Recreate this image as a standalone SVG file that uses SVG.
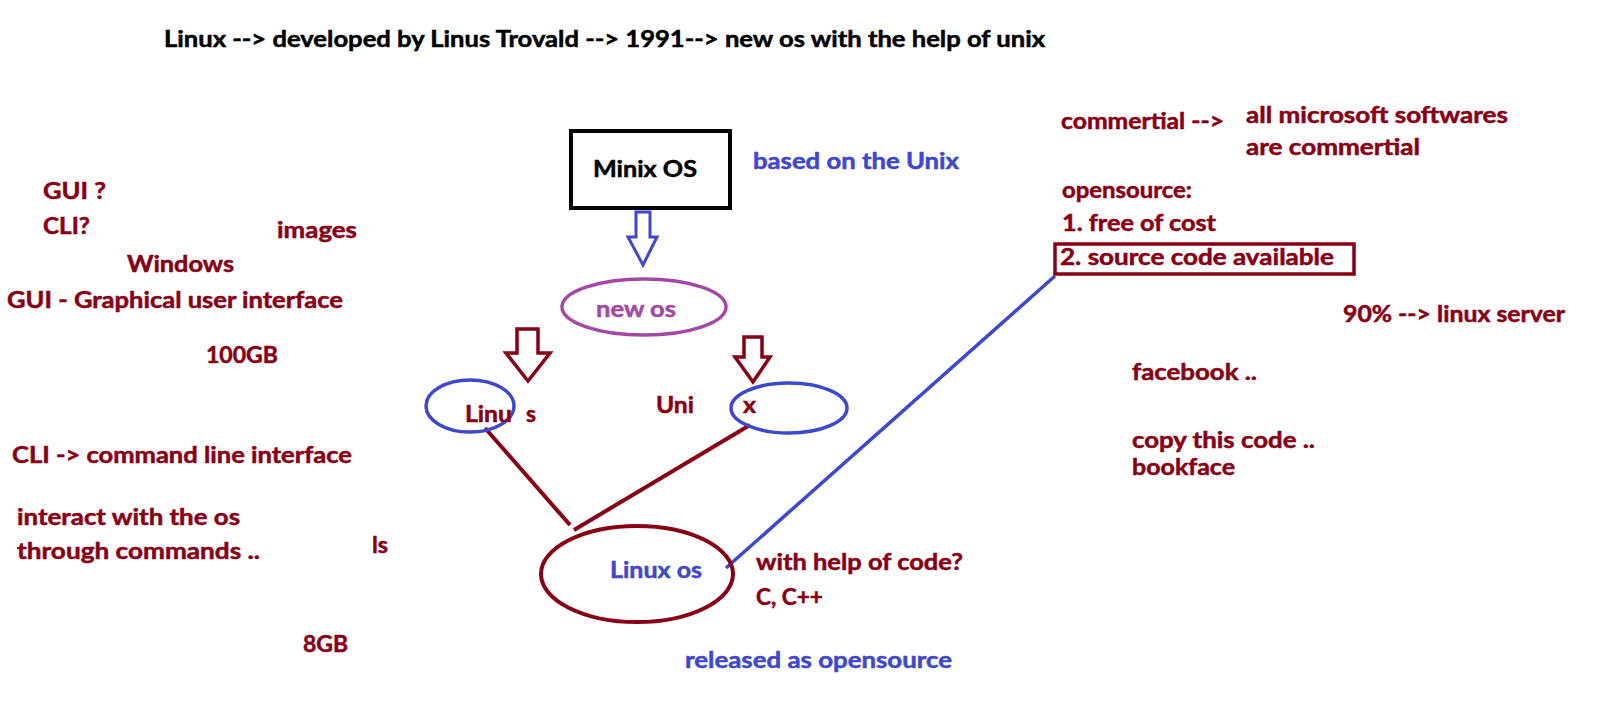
<svg xmlns="http://www.w3.org/2000/svg" width="1600" height="716" viewBox="0 0 1600 716">
<style>
text{font-family:Lato,"Open Sans","Liberation Sans",sans-serif;font-weight:bold;font-size:22px;stroke-width:0.5px}
.r{fill:#880015;stroke:#880015}
.b{fill:#3F48CC;stroke:#3F48CC}
.k{fill:#000;stroke:#000}
.p{fill:#A349A4;stroke:#A349A4}
.sr{fill:none;stroke:#880015;stroke-width:4}
.sb{fill:none;stroke:#3F48CC;stroke-width:3.5}
.ar{fill:#fff;stroke:#880015;stroke-width:3.5;stroke-linejoin:miter}
.ab{fill:#fff;stroke:#3F48CC;stroke-width:3;stroke-linejoin:miter}
</style>
<rect width="1600" height="716" fill="#fff"/>
<text id="title" class="k" x="164" y="47" font-size="22" textLength="881" lengthAdjust="spacingAndGlyphs">Linux --&gt; developed by Linus Trovald --&gt; 1991--&gt; new os with the help of unix</text>

<g id="connectors">
<line class="sr" x1="485" y1="428" x2="570" y2="525"/>
<line class="sr" x1="750" y1="425" x2="574" y2="530"/>
<line class="sb" x1="726" y1="568" x2="1055" y2="276"/>
<path class="ab" d="M636,212 L650,212 L650,237 L657,237 L643,265 L628,237 L636,237 Z"/>
<path class="ar" d="M517,329 L538,329 L538,353 L550,353 L528,381 L506,353 L517,353 Z"/>
<path class="ar" d="M744,337 L762,337 L762,357 L770,357 L753,382 L735,357 L744,357 Z"/>
</g>

<g id="minix">
<rect x="571" y="131" width="159" height="77" fill="#fff" stroke="#000" stroke-width="4"/>
<text class="k" x="593" y="177" font-size="24" textLength="104" lengthAdjust="spacingAndGlyphs">Minix OS</text>
</g>
<g id="based"><text class="b" x="753" y="169" font-size="23" textLength="206" lengthAdjust="spacingAndGlyphs">based on the Unix</text></g>

<g id="newos">
<ellipse cx="644" cy="307" rx="82" ry="28" fill="none" stroke="#A349A4" stroke-width="3.5"/>
<text class="p" x="596" y="317" font-size="26" textLength="80" lengthAdjust="spacingAndGlyphs">new os</text>
</g>

<g id="linus">
<ellipse cx="470" cy="406" rx="44" ry="26" fill="none" stroke="#3F48CC" stroke-width="3.5"/>
<text class="r" x="465" y="422" font-size="23" textLength="47" lengthAdjust="spacingAndGlyphs">Linu</text>
<text class="r" x="526" y="422" font-size="23" textLength="10" lengthAdjust="spacingAndGlyphs">s</text>
</g>

<g id="unix">
<text class="r" x="656" y="413" font-size="23" textLength="38" lengthAdjust="spacingAndGlyphs">Uni</text>
<ellipse cx="789" cy="408" rx="58" ry="25" fill="none" stroke="#3F48CC" stroke-width="3.5"/>
<text class="r" x="743" y="413" font-size="23" textLength="13" lengthAdjust="spacingAndGlyphs">x</text>
</g>

<g id="linuxos">
<ellipse cx="637" cy="574" rx="96" ry="48" fill="none" stroke="#880015" stroke-width="4"/>
<text class="b" x="610" y="578" font-size="24" textLength="92" lengthAdjust="spacingAndGlyphs">Linux os</text>
</g>

<g id="code">
<text class="r" x="756" y="570" font-size="25" textLength="207" lengthAdjust="spacingAndGlyphs">with help of code?</text>
<text class="r" x="756" y="605" textLength="67" lengthAdjust="spacingAndGlyphs">C, C++</text>
</g>
<g id="released"><text class="b" x="685" y="668" textLength="267" lengthAdjust="spacingAndGlyphs">released as opensource</text></g>

<g id="left-notes">
<text class="r" x="43" y="199" textLength="63" lengthAdjust="spacingAndGlyphs">GUI ?</text>
<text class="r" x="43" y="234" textLength="47" lengthAdjust="spacingAndGlyphs">CLI?</text>
<text class="r" x="277" y="238" textLength="80" lengthAdjust="spacingAndGlyphs">images</text>
<text class="r" x="127" y="272" textLength="107" lengthAdjust="spacingAndGlyphs">Windows</text>
<text class="r" x="7" y="308" textLength="336" lengthAdjust="spacingAndGlyphs">GUI - Graphical user interface</text>
<text class="r" x="206" y="363" textLength="72" lengthAdjust="spacingAndGlyphs">100GB</text>
<text class="r" x="12" y="463" textLength="340" lengthAdjust="spacingAndGlyphs">CLI -&gt; command line interface</text>
<text class="r" x="17" y="525" textLength="223" lengthAdjust="spacingAndGlyphs">interact with the os</text>
<text class="r" x="17" y="559" textLength="243" lengthAdjust="spacingAndGlyphs">through commands ..</text>
<text class="r" x="372" y="553" textLength="16" lengthAdjust="spacingAndGlyphs">ls</text>
<text class="r" x="303" y="652" textLength="45" lengthAdjust="spacingAndGlyphs">8GB</text>
</g>

<g id="right-notes">
<text class="r" x="1061" y="129" textLength="163" lengthAdjust="spacingAndGlyphs">commertial --&gt;</text>
<text class="r" x="1246" y="123" textLength="262" lengthAdjust="spacingAndGlyphs">all microsoft softwares</text>
<text class="r" x="1246" y="155" textLength="174" lengthAdjust="spacingAndGlyphs">are commertial</text>
<text class="r" x="1062" y="198" textLength="130" lengthAdjust="spacingAndGlyphs">opensource:</text>
<text class="r" x="1062" y="231" textLength="154" lengthAdjust="spacingAndGlyphs">1. free of cost</text>
</g>
<g id="source-box">
<rect x="1055" y="244" width="299" height="30" fill="none" stroke="#880015" stroke-width="3.5"/>
<text class="r" x="1060" y="265" textLength="274" lengthAdjust="spacingAndGlyphs">2. source code available</text>
</g>
<g id="server-notes">
<text class="r" x="1343" y="322" textLength="222" lengthAdjust="spacingAndGlyphs">90% --&gt; linux server</text>
<text class="r" x="1132" y="380" textLength="125" lengthAdjust="spacingAndGlyphs">facebook ..</text>
<text class="r" x="1132" y="448" textLength="183" lengthAdjust="spacingAndGlyphs">copy this code ..</text>
<text class="r" x="1132" y="475" textLength="103" lengthAdjust="spacingAndGlyphs">bookface</text>
</g>
</svg>
